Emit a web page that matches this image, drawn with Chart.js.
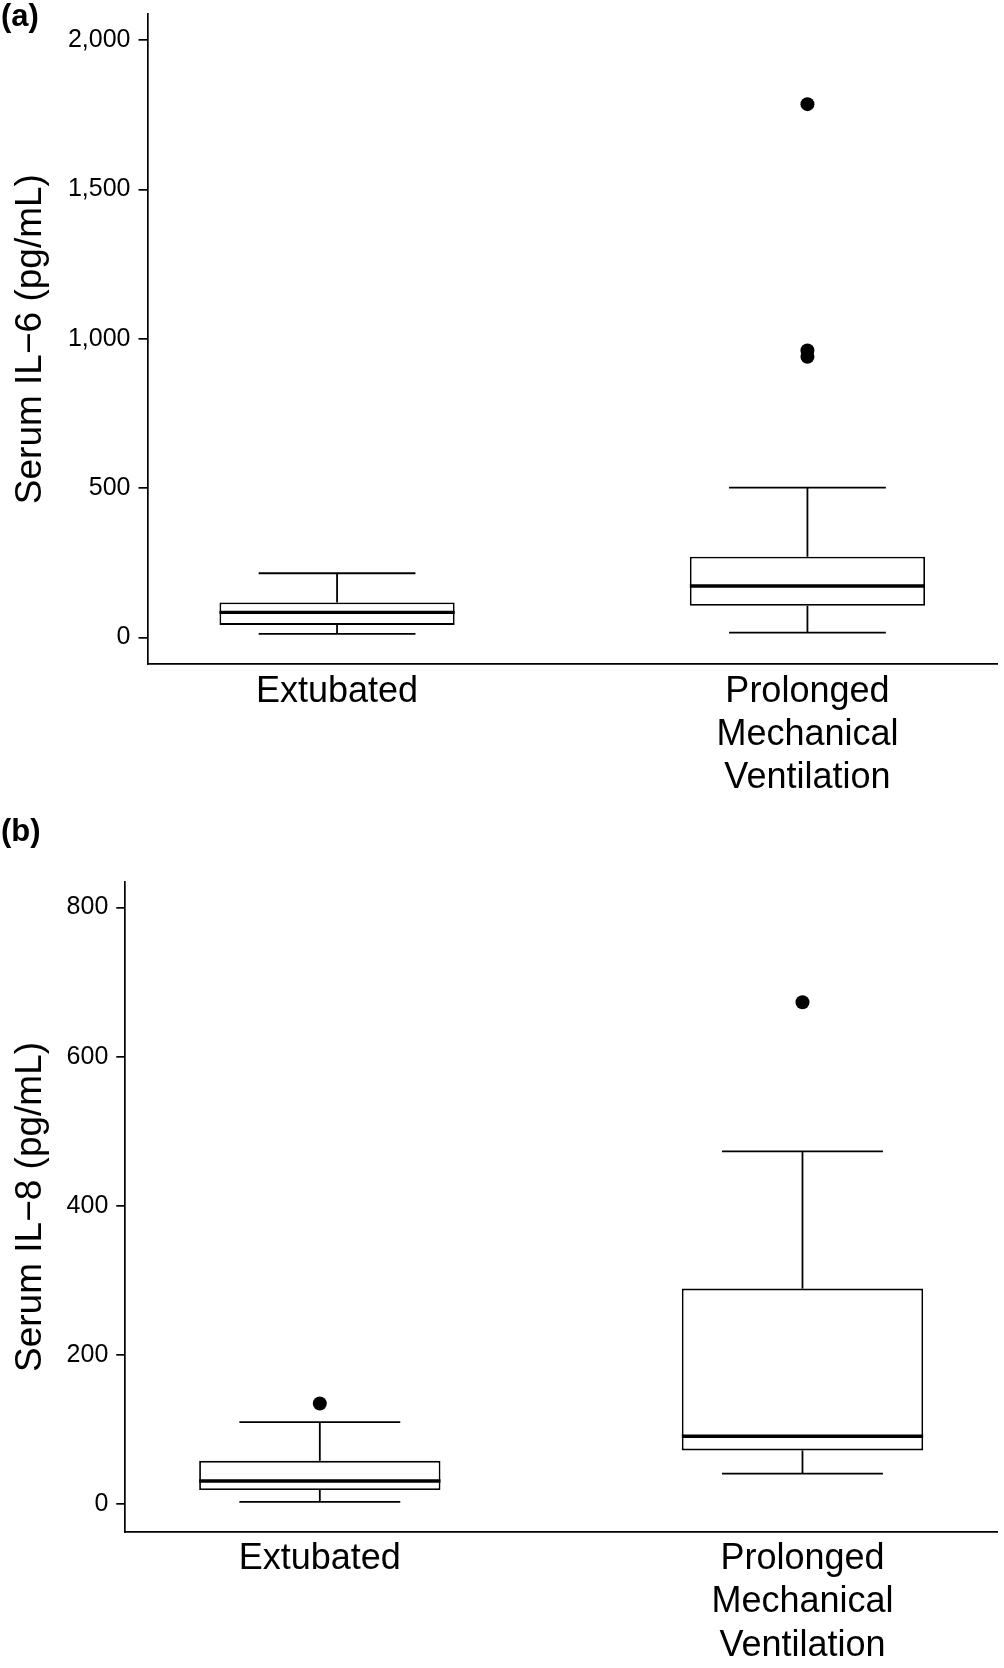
<!DOCTYPE html>
<html>
<head>
<meta charset="utf-8">
<script src="https://cdn.jsdelivr.net/npm/chart.js@4.4.1/dist/chart.umd.min.js"></script>
<style>
  body { margin: 0; background: #fff; }
  canvas { position: absolute; left: 0; }
  #il6 { top: 0; }
  #il8 { top: 800px; }
</style>
</head>
<body>
<canvas id="il6" width="1004" height="800"></canvas>
<canvas id="il8" width="1004" height="868"></canvas>
<script>
const groups = ['Extubated', ['Prolonged', 'Mechanical', 'Ventilation']];

// (a) serum IL-6, pg/mL
const il6Min = [12, 16];
const il6Q1 = [42, 106];
const il6Median = [84, 172];
const il6Q3 = [117, 270];
const il6Max = [215, 502];
const il6Outliers = [[], [1786, 961, 940]];
const il6Ticks = [0, 500, 1000, 1500, 2000];

// (b) serum IL-8, pg/mL
const il8Min = [3, 41];
const il8Q1 = [19, 72];
const il8Median = [31, 91];
const il8Q3 = [58, 289];
const il8Max = [110, 473];
const il8Outliers = [[135], [673]];
const il8Ticks = [0, 200, 400, 600, 800];

const FONT = "'Liberation Sans', Arial, Helvetica, sans-serif";

function boxChart(canvasId, s) {
  const boxes = groups.map((g, i) => ({ x: i + 1, y: [s.q1[i], s.q3[i]] }));
  const dots = [];
  s.outliers.forEach((vals, i) => vals.forEach(v => dots.push({ x: i + 1, y: v })));

  // whiskers, caps and medians, placed with the chart's own scales
  const extras = {
    id: 'extras',
    afterDatasetsDraw(chart) {
      const ctx = chart.ctx;
      const y = chart.scales.y;
      const bars = chart.getDatasetMeta(0).data;
      const seg = (x1, y1, x2, y2) => { ctx.beginPath(); ctx.moveTo(x1, y1); ctx.lineTo(x2, y2); ctx.stroke(); };
      ctx.save();
      ctx.strokeStyle = '#000';
      bars.forEach((bar, i) => {
        const cx = bar.x, half = bar.width / 2, cap = half * 2 / 3;
        const yMax = y.getPixelForValue(s.max[i]);
        const yMin = y.getPixelForValue(s.min[i]);
        ctx.lineWidth = 1.8;
        seg(cx, y.getPixelForValue(s.q3[i]), cx, yMax);
        seg(cx - cap, yMax, cx + cap, yMax);
        seg(cx, y.getPixelForValue(s.q1[i]), cx, yMin);
        seg(cx - cap, yMin, cx + cap, yMin);
        ctx.lineWidth = 3.4;
        const yMed = y.getPixelForValue(s.median[i]);
        seg(cx - half, yMed, cx + half, yMed);
      });
      ctx.restore();
    },
    afterDraw(chart) {
      const ctx = chart.ctx;
      ctx.save();
      ctx.fillStyle = '#000';
      ctx.font = 'bold 31px ' + FONT;
      ctx.textBaseline = 'alphabetic';
      ctx.fillText(s.panel, 1, s.panelBaseline);
      ctx.restore();
    }
  };

  return new Chart(document.getElementById(canvasId), {
    type: 'bar',
    data: {
      datasets: [
        {
          type: 'bar',
          data: boxes,
          backgroundColor: '#fff',
          borderColor: '#000',
          borderWidth: 1.8,
          borderSkipped: false,
          barPercentage: 0.5,
          categoryPercentage: 1
        },
        {
          type: 'scatter',
          data: dots,
          pointRadius: 7,
          pointBackgroundColor: '#000',
          pointBorderWidth: 0
        }
      ]
    },
    options: {
      responsive: false,
      animation: false,
      layout: { padding: { top: s.padTop, right: 6.5, left: 0, bottom: 0 } },
      plugins: { legend: { display: false }, tooltip: { enabled: false } },
      scales: {
        x: {
          type: 'linear',
          offset: false,
          min: 0.597,
          max: 2.403,
          afterBuildTicks: sc => { sc.ticks = groups.map((g, i) => ({ value: i + 1 })); },
          afterFit: sc => { sc.height = s.axisBottom; sc.paddingLeft = 0; sc.paddingRight = 0; },
          ticks: {
            autoSkip: false,
            maxRotation: 0,
            padding: 6,
            color: '#000',
            font: { family: FONT, size: 36, lineHeight: 1.2 },
            callback: v => groups[Math.round(v) - 1]
          },
          grid: { display: false, drawTicks: false },
          border: { display: true, color: '#000', width: 1.7 }
        },
        y: {
          type: 'linear',
          min: s.yMin,
          max: s.yMax,
          afterBuildTicks: sc => { sc.ticks = s.ticks.map(v => ({ value: v })); },
          afterFit: sc => { sc.width = s.axisLeft; sc.paddingTop = 0; sc.paddingBottom = 0; },
          ticks: {
            padding: 8,
            color: '#000',
            font: { family: FONT, size: 25 },
            callback: v => v.toLocaleString('en-US')
          },
          grid: { drawOnChartArea: false, drawTicks: true, tickLength: 9, color: '#000', lineWidth: 1.7 },
          border: { display: true, color: '#000', width: 1.7 },
          title: {
            display: true,
            text: s.title,
            color: '#000',
            font: { family: FONT, size: 37, lineHeight: 1.2 },
            padding: { top: 9, bottom: 0 }
          }
        }
      }
    },
    plugins: [extras]
  });
}

boxChart('il6', {
  min: il6Min, q1: il6Q1, median: il6Median, q3: il6Q3, max: il6Max,
  outliers: il6Outliers, ticks: il6Ticks,
  yMin: -90, yMax: 2088,
  title: 'Serum IL\u22126 (pg/mL)',
  panel: '(a)', panelBaseline: 26,
  padTop: 14, axisLeft: 147.5, axisBottom: 135.7
});

boxChart('il8', {
  min: il8Min, q1: il8Q1, median: il8Median, q3: il8Q3, max: il8Max,
  outliers: il8Outliers, ticks: il8Ticks,
  yMin: -37, yMax: 834,
  title: 'Serum IL\u22128 (pg/mL)',
  panel: '(b)', panelBaseline: 41,
  padTop: 82.2, axisLeft: 125.3, axisBottom: 136.3
});
</script>
</body>
</html>
